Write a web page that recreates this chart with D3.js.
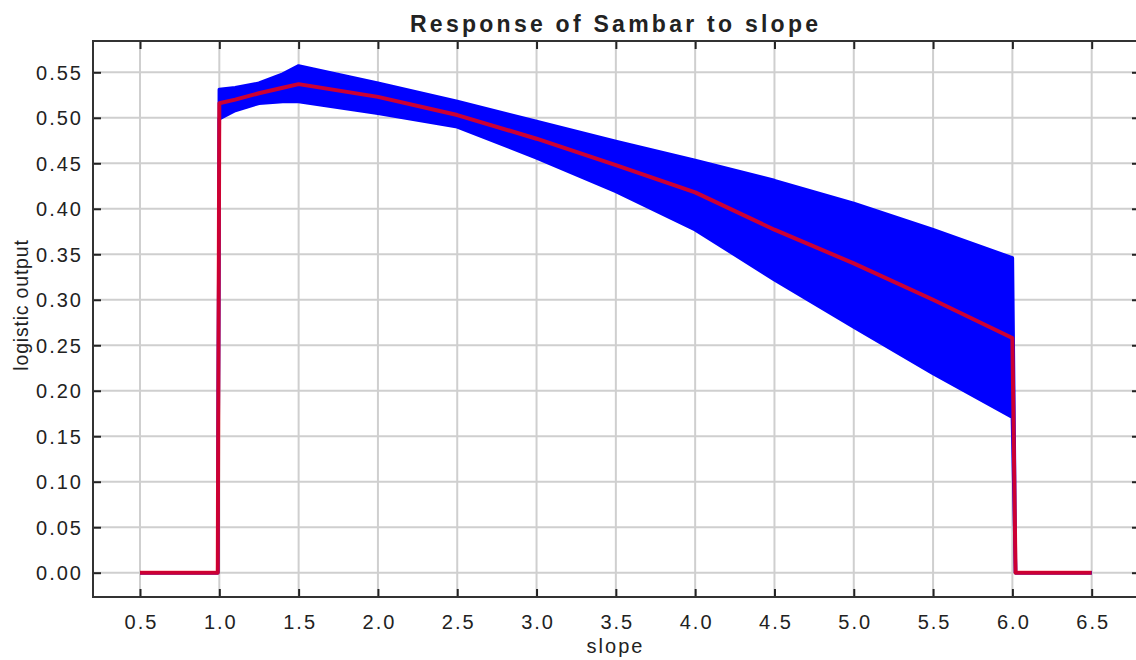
<!DOCTYPE html>
<html>
<head>
<meta charset="utf-8">
<script src="https://cdn.jsdelivr.net/npm/d3@7"></script>
<style>
  html, body { margin: 0; padding: 0; background: #fff; }
  svg { display: block; }
  text { font-family: "Liberation Sans", Arial, sans-serif; fill: #222; }
</style>
</head>
<body>
<svg id="chart" width="1136" height="660"></svg>
<script>
// Slope values at which the response was evaluated
const slope = [0.5, 0.99, 1.0, 1.1, 1.25, 1.4, 1.5, 2.0, 2.5, 3.0, 3.5, 4.0, 4.5, 5.0, 5.5, 6.0, 6.02, 6.5];
// Mean logistic output (red line)
const meanOutput = [0, 0, 0.516, 0.520, 0.527, 0.533, 0.537, 0.523, 0.503, 0.477, 0.448, 0.418, 0.377, 0.340, 0.300, 0.258, 0, 0];
// Upper and lower envelope of the individual responses (blue band)
const upperOutput = [0, 0, 0.531, 0.533, 0.538, 0.548, 0.557, 0.538, 0.518, 0.496, 0.474, 0.453, 0.431, 0.406, 0.377, 0.346, 0, 0];
const lowerOutput = [0, 0, 0.499, 0.508, 0.516, 0.518, 0.518, 0.505, 0.490, 0.456, 0.419, 0.377, 0.322, 0.270, 0.219, 0.171, 0, 0];
// Axis ticks
const xTicks = [0.5, 1.0, 1.5, 2.0, 2.5, 3.0, 3.5, 4.0, 4.5, 5.0, 5.5, 6.0, 6.5];
const yTicks = [0.00, 0.05, 0.10, 0.15, 0.20, 0.25, 0.30, 0.35, 0.40, 0.45, 0.50, 0.55];

const rows = slope.map((s, i) => ({ s, m: meanOutput[i], hi: upperOutput[i], lo: lowerOutput[i] }));

const svg = d3.select("#chart");
const plot = { left: 93, right: 1140, top: 41, bottom: 597 };

const x = d3.scaleLinear().domain([0.2036, 6.8046]).range([plot.left, plot.right]);
const y = d3.scaleLinear().domain([-0.0267, 0.5844]).range([plot.bottom, plot.top]);

// Grid
const grid = svg.append("g").attr("stroke", "#cfcfcf").attr("stroke-width", 2);
grid.selectAll("line.gx").data(xTicks).join("line")
  .attr("x1", d => x(d)).attr("x2", d => x(d))
  .attr("y1", plot.top).attr("y2", plot.bottom);
grid.selectAll("line.gy").data(yTicks).join("line")
  .attr("y1", d => y(d)).attr("y2", d => y(d))
  .attr("x1", plot.left).attr("x2", plot.right);

// Blue envelope band
svg.append("path").datum(rows)
  .attr("fill", "#0000ff")
  .attr("d", d3.area().x(d => x(d.s)).y0(d => y(d.lo)).y1(d => y(d.hi)));
["hi", "lo"].forEach(k => {
  svg.append("path").datum(rows)
    .attr("fill", "none").attr("stroke", "#0000ff").attr("stroke-width", 3.5)
    .attr("stroke-linejoin", "round")
    .attr("d", d3.line().x(d => x(d.s)).y(d => y(d[k])));
});

// Mean response line
svg.append("path").datum(rows)
  .attr("fill", "none").attr("stroke", "#ff0000").attr("stroke-opacity", 0.8)
  .attr("stroke-width", 4).attr("stroke-linejoin", "round")
  .attr("d", d3.line().x(d => x(d.s)).y(d => y(d.m)));

// Axes with inward ticks on all four sides
const tickLen = 8;
const axB = svg.append("g").attr("transform", `translate(0,${plot.bottom})`)
  .call(d3.axisBottom(x).tickValues(xTicks).tickSizeInner(-tickLen).tickSizeOuter(0).tickPadding(18).tickFormat(d3.format(".1f")));
const axT = svg.append("g").attr("transform", `translate(0,${plot.top})`)
  .call(d3.axisTop(x).tickValues(xTicks).tickSizeInner(-tickLen).tickSizeOuter(0).tickFormat(""));
const axL = svg.append("g").attr("transform", `translate(${plot.left},0)`)
  .call(d3.axisLeft(y).tickValues(yTicks).tickSizeInner(-tickLen).tickSizeOuter(0).tickPadding(12).tickFormat(d3.format(".2f")));
const axR = svg.append("g").attr("transform", `translate(${plot.right},0)`)
  .call(d3.axisRight(y).tickValues(yTicks).tickSizeInner(-tickLen).tickSizeOuter(0).tickFormat(""));

[axB, axT, axL, axR].forEach(a => {
  a.select(".domain").remove();
  a.selectAll(".tick line").attr("stroke", "#222").attr("stroke-width", 2);
});
axB.selectAll(".tick text")
  .attr("font-family", "Liberation Sans, Arial, sans-serif").attr("font-size", 20)
  .attr("letter-spacing", "2px").attr("dx", "1px").attr("fill", "#222");
axL.selectAll(".tick text")
  .attr("font-family", "Liberation Sans, Arial, sans-serif").attr("font-size", 20)
  .attr("letter-spacing", "2px").attr("dx", "2px").attr("dy", "0.36em").attr("fill", "#222");

// Frame
svg.append("rect")
  .attr("x", plot.left).attr("y", plot.top)
  .attr("width", plot.right - plot.left).attr("height", plot.bottom - plot.top)
  .attr("fill", "none").attr("stroke", "#333").attr("stroke-width", 2);

// Title and axis labels
svg.append("text")
  .attr("x", 410).attr("y", 32)
  .attr("font-size", 23).attr("font-weight", "bold").attr("fill", "#111")
  .attr("textLength", 408).attr("lengthAdjust", "spacing")
  .text("Response of Sambar to slope");

svg.append("text")
  .attr("x", (plot.left + plot.right) / 2 - 1).attr("y", 653)
  .attr("text-anchor", "middle").attr("font-size", 20).attr("letter-spacing", "2px")
  .text("slope");

svg.append("text")
  .attr("transform", "translate(28,305) rotate(-90)")
  .attr("text-anchor", "middle").attr("font-size", 19.5).attr("letter-spacing", "0.8px")
  .text("logistic output");
</script>
</body>
</html>
